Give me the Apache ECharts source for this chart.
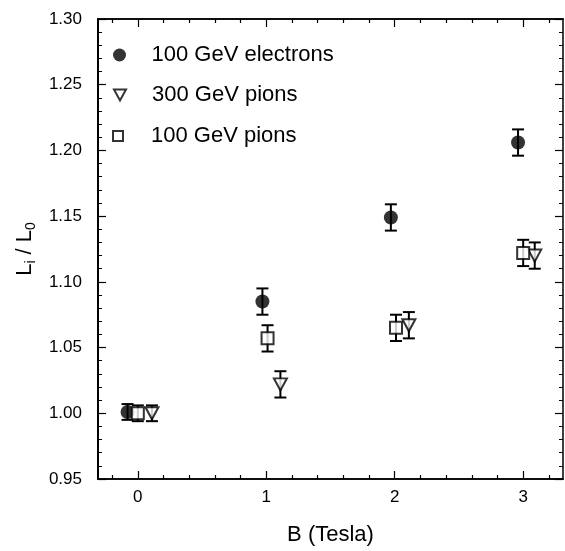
<!DOCTYPE html>
<html>
<head>
<meta charset="utf-8">
<script src="https://cdn.jsdelivr.net/npm/echarts@6/dist/echarts.min.js"></script>
<style>
  html, body { margin: 0; padding: 0; background: #fff; }
  #chart { width: 565px; height: 551px; }
</style>
</head>
<body>
<div id="chart"></div>
<script>
// B field (Tesla) and length ratio L_i / L_0
const bElectron = [-0.08, 0.97, 1.97, 2.96];
const lElectron = [1.001, 1.085, 1.149, 1.206];
const errElectron = [0.006, 0.01, 0.01, 0.01];

const bPion300 = [0.11, 1.11, 2.11, 3.09];
const lPion300 = [1.0, 1.022, 1.067, 1.12];
const errPion300 = [0.006, 0.01, 0.01, 0.01];

const bPion100 = [0.0, 1.01, 2.01, 3.0];
const lPion100 = [1.0, 1.057, 1.065, 1.122];
const errPion100 = [0.006, 0.01, 0.01, 0.01];

const names = ["100 GeV electrons", "300 GeV pions", "100 GeV pions"];
const bTicks = [0, 1, 2, 3];
const bMinorTicks = [-0.2, 0.2, 0.4, 0.6, 0.8, 1.2, 1.4, 1.6, 1.8, 2.2, 2.4, 2.6, 2.8, 3.2];

const FONT = "Liberation Sans, Arial, sans-serif";
const TRI_DOWN = "path://M0,0L12,0L6,11Z";
const SQUARE = "path://M0,0L10,0L10,10L0,10Z";

function zip(b, l, e) {
  return b.map((x, i) => [x, l[i], e[i]]);
}

// vertical error bar with caps
function errorBar(params, api) {
  const x = api.value(0), y = api.value(1), e = api.value(2);
  const hi = api.coord([x, y + e]);
  const lo = api.coord([x, y - e]);
  const cap = 6;
  const style = { stroke: "#000", lineWidth: 2 };
  return {
    type: "group",
    children: [
      { type: "line", shape: { x1: hi[0], y1: hi[1], x2: lo[0], y2: lo[1] }, style },
      { type: "line", shape: { x1: hi[0] - cap, y1: hi[1], x2: hi[0] + cap, y2: hi[1] }, style },
      { type: "line", shape: { x1: lo[0] - cap, y1: lo[1], x2: lo[0] + cap, y2: lo[1] }, style },
    ],
  };
}

function line(w) {
  return { show: true, onZero: false, lineStyle: { color: "#000", width: w } };
}

function xAx(pos, ticks, len, labels) {
  return {
    type: "value", position: pos, min: -0.31, max: 3.31, offset: 0,
    axisLine: line(1.5),
    axisTick: { show: true, inside: true, length: len, customValues: ticks, lineStyle: { color: "#000", width: 1.2 } },
    axisLabel: labels
      ? { show: true, customValues: ticks, color: "#000", fontSize: 17, fontFamily: FONT, margin: 10 }
      : { show: false },
    splitLine: { show: false },
  };
}

function yAx(pos, labels) {
  return {
    type: "value", position: pos, min: 0.95, max: 1.3, interval: 0.05, offset: 0,
    axisLine: line(pos === "left" ? 2 : 1.5),
    axisTick: { show: true, inside: true, length: 8, lineStyle: { color: "#000", width: 1.2 } },
    minorTick: { show: true, splitNumber: 5, length: 4, lineStyle: { color: "#000", width: 1 } },
    axisLabel: labels
      ? { show: true, color: "#000", fontSize: 17, fontFamily: FONT, margin: 16, formatter: (v) => v.toFixed(2) }
      : { show: false },
    splitLine: { show: false },
    minorSplitLine: { show: false },
  };
}

const chart = echarts.init(document.getElementById("chart"), null, { renderer: "canvas" });

const xAxes = [
  xAx("bottom", bTicks, 8, true),
  xAx("bottom", bMinorTicks, 4, false),
  xAx("top", bTicks, 8, false),
  xAx("top", bMinorTicks, 4, false),
];
xAxes[0].name = "B (Tesla)";
xAxes[0].nameLocation = "middle";
xAxes[0].nameGap = 45;
xAxes[0].nameTextStyle = { color: "#000", fontSize: 22, fontFamily: FONT };

const yAxes = [yAx("left", true), yAx("right", false)];
yAxes[0].name = "{a|L}{s|i}{a| / L}{s|0}";
yAxes[0].nameLocation = "middle";
yAxes[0].nameGap = 58;
yAxes[0].nameRotate = 90;
yAxes[0].nameTextStyle = {
  color: "#000", fontFamily: FONT,
  rich: {
    a: { fontSize: 22, fontFamily: FONT, color: "#000", lineHeight: 24, verticalAlign: "top" },
    s: { fontSize: 14, fontFamily: FONT, color: "#000", lineHeight: 14, padding: [14, 0, 0, 0], verticalAlign: "bottom" },
  },
};

function legendFor(name, icon, top, left, iw, ih) {
  return {
    data: [{ name: name, icon: icon }],
    top: top, left: left, orient: "vertical", padding: 0,
    itemWidth: iw, itemHeight: ih,
    selectedMode: false,
    textStyle: { color: "#000", fontSize: 22, fontFamily: FONT, lineHeight: 24 },
  };
}

chart.setOption({
  backgroundColor: "#fff",
  animation: false,
  grid: { left: 98, right: 2, top: 19, bottom: 72 },
  legend: [
    legendFor(names[0], "circle", 43, 113, 54, 13),
    legendFor(names[1], TRI_DOWN, 83, 113, 54, 11),
    legendFor(names[2], SQUARE, 124, 112, 56, 10),
  ],
  xAxis: xAxes,
  yAxis: yAxes,
  series: [
    { name: "err0", type: "custom", renderItem: errorBar, data: zip(bElectron, lElectron, errElectron), z: 2 },
    { name: "err1", type: "custom", renderItem: errorBar, data: zip(bPion300, lPion300, errPion300), z: 2 },
    { name: "err2", type: "custom", renderItem: errorBar, data: zip(bPion100, lPion100, errPion100), z: 2 },
    {
      name: names[0], type: "scatter", symbol: "circle", symbolSize: 14,
      itemStyle: { color: "#000" },
      data: zip(bElectron, lElectron, errElectron), z: 3,
    },
    {
      name: names[1], type: "scatter", symbol: TRI_DOWN, symbolSize: [13, 12],
      itemStyle: { color: "#fff", borderColor: "#000", borderWidth: 2 },
      data: zip(bPion300, lPion300, errPion300), z: 3,
    },
    {
      name: names[2], type: "scatter", symbol: SQUARE, symbolSize: 12,
      itemStyle: { color: "#fff", borderColor: "#000", borderWidth: 2 },
      data: zip(bPion100, lPion100, errPion100), z: 3,
    },
  ],
});
</script>
</body>
</html>
